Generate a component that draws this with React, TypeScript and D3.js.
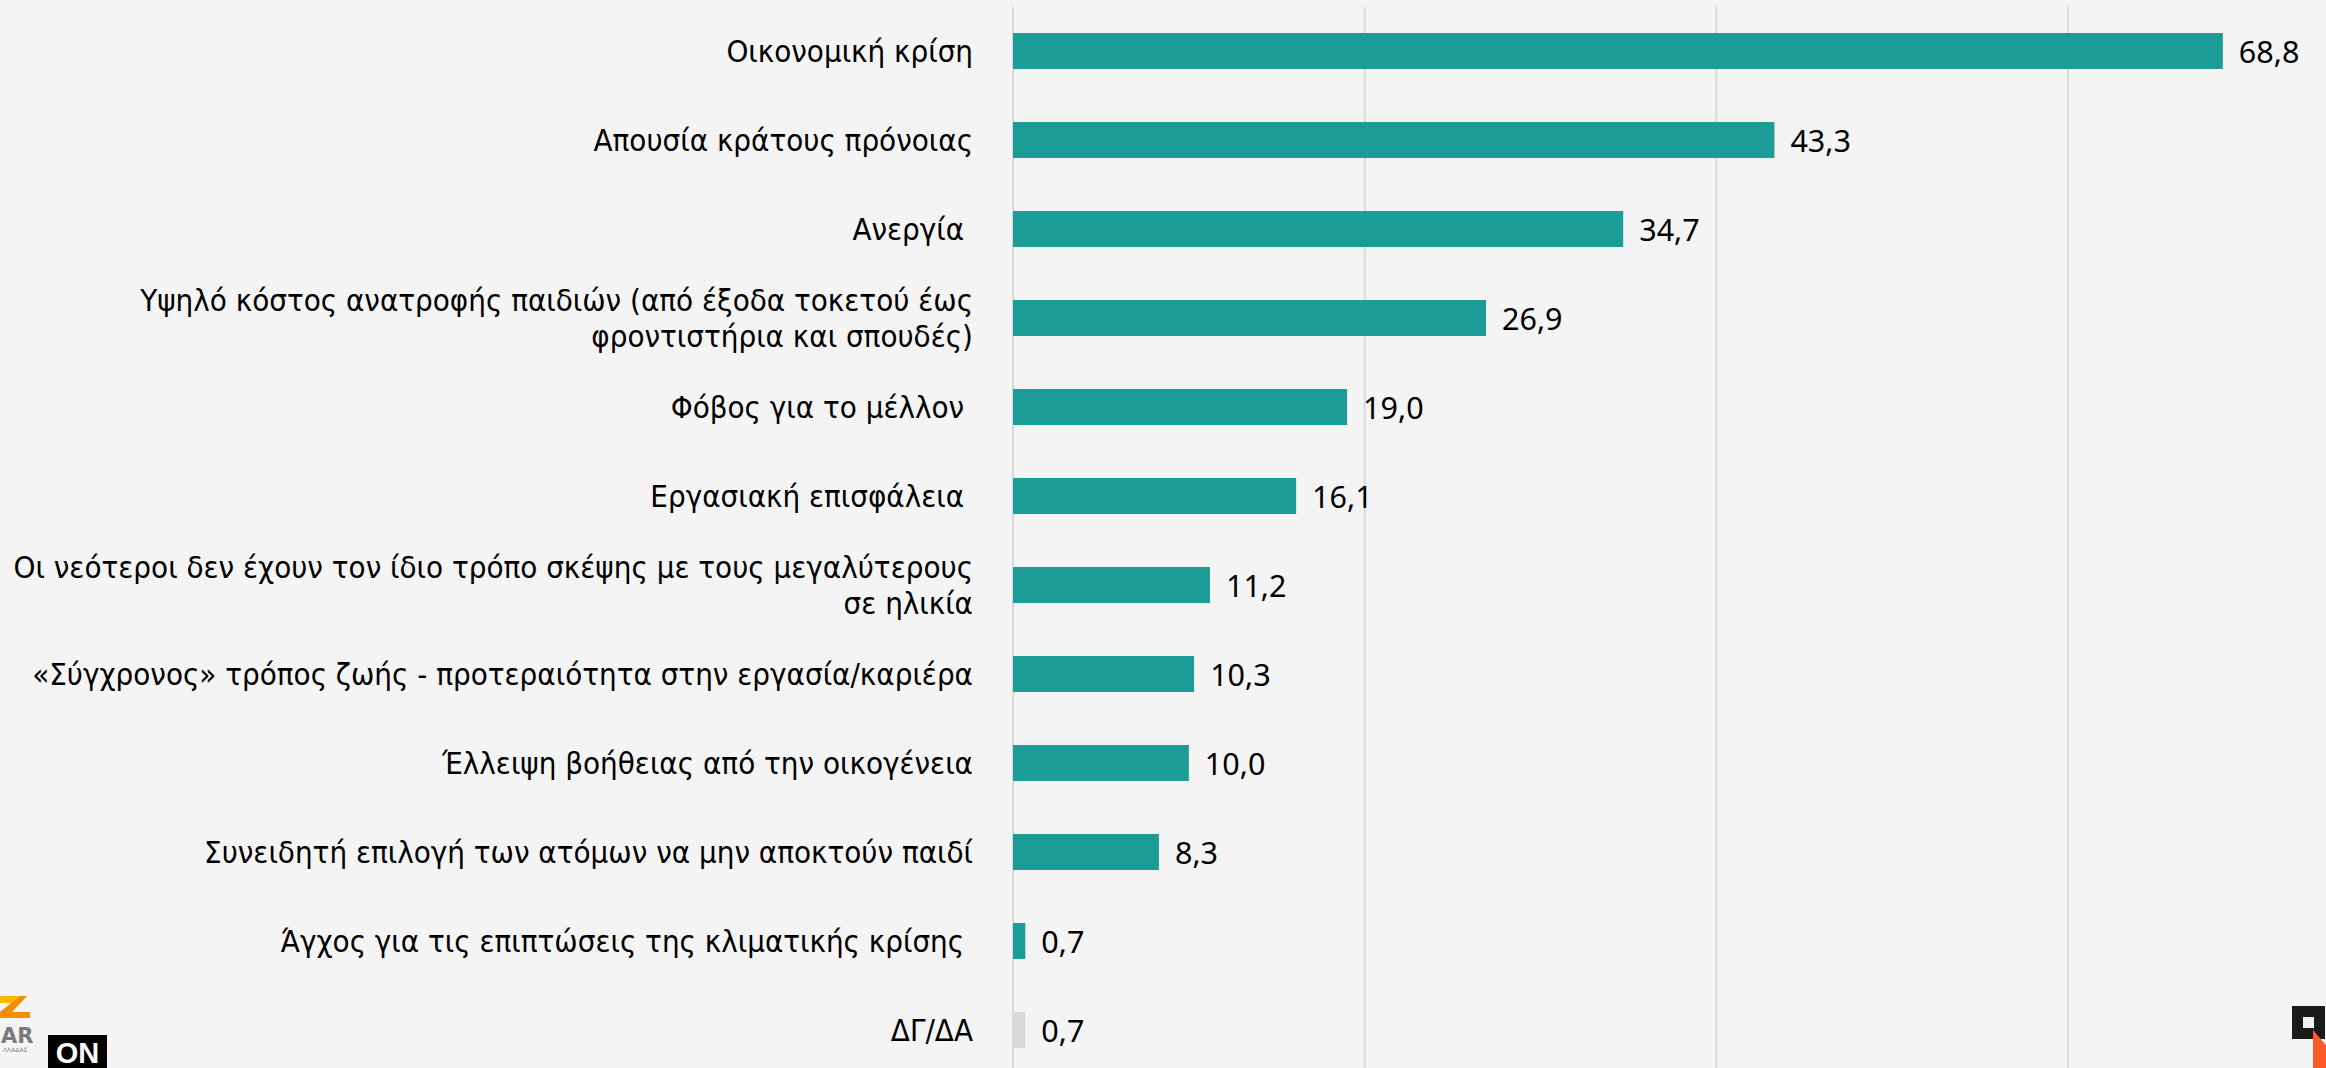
import React from "react";
import * as d3 from "d3";

const categoryLines: string[][] = [
  ["Οικονομική κρίση"],
  ["Απουσία κράτους πρόνοιας"],
  ["Ανεργία "],
  ["Υψηλό κόστος ανατροφής παιδιών (από έξοδα τοκετού έως", "φροντιστήρια και σπουδές)"],
  ["Φόβος για το μέλλον "],
  ["Εργασιακή επισφάλεια "],
  ["Οι νεότεροι δεν έχουν τον ίδιο τρόπο σκέψης με τους μεγαλύτερους", "σε ηλικία"],
  ["«Σύγχρονος» τρόπος ζωής - προτεραιότητα στην εργασία/καριέρα"],
  ["Έλλειψη βοήθειας από την οικογένεια"],
  ["Συνειδητή επιλογή των ατόμων να μην αποκτούν παιδί"],
  ["Άγχος για τις επιπτώσεις της κλιματικής κρίσης "],
  ["ΔΓ/ΔΑ"],
];
const values: number[] = [68.8, 43.3, 34.7, 26.9, 19.0, 16.1, 11.2, 10.3, 10.0, 8.3, 0.7, 0.7];
const gridTicks: number[] = [0, 20, 40, 60];

const W = 2326;
const H = 1068;
const TEAL = "#1c9c97";
const GREY_BAR = "#d9d9d9";

export default function App() {
  const ids = categoryLines.map((_, i) => String(i));
  const x = d3.scaleLinear().domain([0, 80]).range([1013, 1013 + 80 * 17.585]);
  const y = d3
    .scaleBand<string>()
    .domain(ids)
    .range([6.5, 1074.5])
    .paddingInner(0.5955)
    .paddingOuter(0.29775);
  const fmt = (v: number) => d3.format(".1f")(v).replace(".", ",");
  const bw = y.bandwidth();

  return (
    <div style={{ position: "fixed", left: 0, top: 0, width: W, height: H, background: "#f4f4f4" }}>
      <svg width={W} height={H} style={{ display: "block" }}>
        <rect x={0} y={0} width={W} height={H} fill="#f4f4f4" />
        {gridTicks.map((t) => (
          <line key={t} x1={x(t)} x2={x(t)} y1={7} y2={H} stroke="#d9d9d9" strokeWidth={2} />
        ))}
        {values.map((v, i) => {
          const yc = (y(ids[i]) as number) + bw / 2;
          const lines = categoryLines[i];
          return (
            <g key={i}>
              <rect
                x={x(0)}
                y={y(ids[i])}
                width={x(v) - x(0)}
                height={bw}
                fill={i === values.length - 1 ? GREY_BAR : TEAL}
              />
              <text
                x={x(v) + 16}
                y={yc + 12}
                fontFamily="'Noto Sans', 'Open Sans', sans-serif"
                fontSize={30.5}
                fill="#000"
              >
                {fmt(v)}
              </text>
              {lines.map((ln, j) => (
                <text
                  key={j}
                  x={973}
                  y={yc + 11 + (j - (lines.length - 1) / 2) * 36}
                  textAnchor="end"
                  fontFamily="'DejaVu Sans', sans-serif"
                  fontStretch="condensed"
                  fontSize={31}
                  fill="#000"
                  style={{ whiteSpace: "pre" }}
                >
                  {ln}
                </text>
              ))}
            </g>
          );
        })}
        {/* bottom-left partial logo */}
        <g>
          <path d="M0,996 L20,996 L14,1003 L0,1003 Z" fill="#f5b800" />
          <path d="M20,996 L27,996 L12,1012 L30,1012 L30,1018 L0,1018 L0,1012 Z" fill="#f28c00" />
          <text x={1} y={1043} fontFamily="'DejaVu Sans', sans-serif" fontWeight="bold" fontSize={21} fill="#7a7a7a">
            AR
          </text>
          <text x={3} y={1052} fontFamily="'DejaVu Sans', sans-serif" fontSize={6} fill="#7a7a7a">
            ΛΛΑΔΑΣ
          </text>
          <rect x={48} y={1035} width={59} height={33} fill="#000" />
          <text x={77.5} y={1063} textAnchor="middle" fontFamily="'Liberation Sans', Arial, sans-serif" fontWeight="bold" fontSize={29} fill="#fff">
            ON
          </text>
        </g>
        {/* bottom-right logo */}
        <g>
          <rect x={2292} y={1006} width={33} height={33} fill="#1a1a1a" />
          <rect x={2303} y={1017} width={11} height={11} fill="#f0f0f0" />
          <path d="M2313,1030 L2326,1045 L2326,1068 L2313,1068 Z" fill="#ff5a2a" />
        </g>
      </svg>
    </div>
  );
}
